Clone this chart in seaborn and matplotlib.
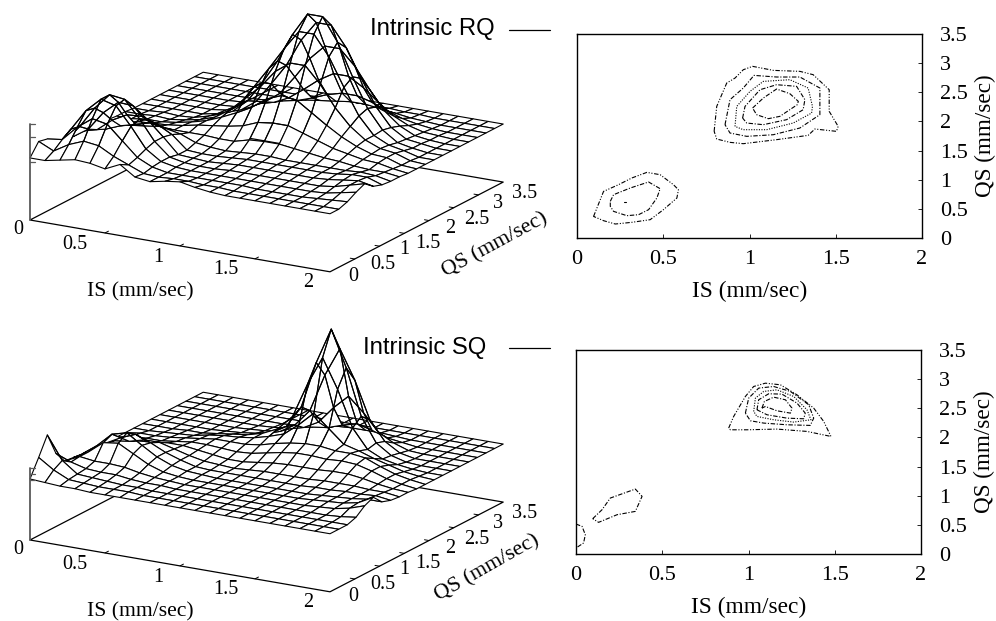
import matplotlib
matplotlib.use("Agg")
import matplotlib.pyplot as plt
import numpy as np
import seaborn as sns
from matplotlib.lines import Line2D
from mpl_toolkits.mplot3d import proj3d

W, H = 996, 621
SERIF = "Liberation Serif"
SANS = "Liberation Sans"

is_grid = [round(0.1 * i, 1) for i in range(21)]
qs_grid = [round(0.175 * j, 3) for j in range(21)]
floor_height = 58

# height above the flat floor, one row per IS value
rq_height = [
    [4, 16, 14, 2, 2, 3, 4, 4, 3, 2, 1, 1, 0, 0, 0, 0, 0, 0, 0, 0, 0],
    [4, 9, 16, 22, 20, 13, 8, 4, 3, 2, 1, 1, 0, 0, 0, 0, 0, 0, 0, 0, 0],
    [7, 18, 31, 43, 41, 32, 20, 10, 6, 5, 3, 2, 1, 0, 0, 0, 0, 0, 0, 0, 0],
    [10, 24, 42, 57, 57, 45, 28, 14, 8, 6, 3, 1, 0, 0, 0, 0, 0, 0, 0, 0, 0],
    [9, 22, 39, 53, 55, 44, 29, 18, 10, 7, 5, 3, 1, 0, 0, 0, 0, 0, 0, 0, 0],
    [6, 14, 25, 35, 38, 32, 24, 15, 9, 9, 8, 6, 5, 3, 2, 1, 1, 0, 0, 0, 0],
    [13, 8, 11, 15, 18, 18, 16, 12, 9, 12, 12, 11, 10, 8, 5, 3, 2, 1, 0, 0, 0],
    [3, 2, 4, 5, 5, 3, 3, 6, 9, 14, 18, 21, 21, 21, 16, 11, 6, 3, 1, 0, 0],
    [1, 1, 1, 2, 2, 2, 2, 4, 8, 16, 25, 35, 42, 42, 36, 22, 13, 6, 2, 1, 0],
    [4, 2, 1, 1, 1, 1, 2, 3, 8, 19, 33, 49, 63, 66, 57, 41, 24, 11, 4, 1, 0],
    [6, 2, 1, 1, 1, 2, 3, 4, 12, 25, 44, 67, 85, 95, 85, 62, 36, 17, 6, 2, 0],
    [3, 1, 1, 1, 2, 3, 4, 5, 13, 27, 50, 78, 105, 118, 105, 77, 45, 21, 8, 2, 0],
    [1, 1, 1, 1, 2, 3, 4, 5, 13, 27, 48, 78, 105, 118, 105, 77, 45, 21, 8, 2, 0],
    [0, 0, 1, 1, 2, 3, 4, 4, 11, 22, 38, 62, 85, 95, 85, 62, 36, 17, 6, 2, 0],
    [0, 0, 0, 1, 2, 3, 4, 4, 9, 17, 28, 41, 57, 63, 57, 41, 24, 11, 4, 1, 0],
    [0, 0, 0, 1, 2, 3, 4, 4, 7, 12, 19, 25, 31, 34, 31, 22, 13, 6, 2, 1, 0],
    [0, 0, 0, 1, 2, 3, 4, 4, 6, 9, 12, 14, 14, 15, 13, 10, 6, 3, 1, 0, 0],
    [0, 0, 0, 1, 2, 4, 5, 4, 4, 6, 7, 8, 7, 5, 4, 3, 2, 1, 0, 0, 0],
    [0, 0, 1, 2, 4, 6, 7, 5, 3, 5, 6, 6, 4, 2, 2, 1, 1, 0, 0, 0, 0],
    [0, 0, 2, 5, 8, 8, 7, 4, 3, 2, 1, 1, 0, 0, 0, 0, 0, 0, 0, 0, 0],
    [0, 0, 3, 8, 12, 5, 2, 1, 1, 0, 0, 0, 0, 0, 0, 0, 0, 0, 0, 0, 0],
]

sq_height = [
    [3, 20, 38, 15, 3, 2, 1, 1, 1, 0, 0, 0, 0, 0, 0, 0, 0, 0, 0, 0, 0],
    [2, 10, 15, 9, 10, 10, 12, 10, 8, 6, 3, 2, 0, 0, 0, 0, 0, 0, 0, 0, 0],
    [1, 3, 4, 5, 8, 22, 26, 18, 10, 6, 4, 2, 1, 0, 0, 0, 0, 0, 0, 0, 0],
    [1, 2, 3, 4, 8, 24, 30, 24, 14, 7, 4, 3, 2, 1, 0, 0, 0, 0, 0, 0, 0],
    [0, 1, 2, 4, 7, 16, 20, 18, 14, 9, 6, 5, 3, 1, 0, 0, 0, 0, 0, 0, 0],
    [0, 1, 1, 2, 4, 8, 11, 11, 10, 9, 8, 7, 6, 3, 1, 0, 0, 0, 0, 0, 0],
    [0, 1, 1, 1, 2, 3, 5, 6, 6, 7, 8, 9, 8, 5, 2, 1, 0, 0, 0, 0, 0],
    [0, 0, 0, 1, 1, 1, 2, 2, 3, 5, 7, 9, 9, 7, 4, 2, 1, 0, 0, 0, 0],
    [0, 0, 0, 0, 0, 0, 1, 1, 2, 3, 6, 9, 11, 11, 7, 4, 2, 1, 0, 0, 0],
    [0, 0, 0, 0, 0, 0, 0, 1, 1, 3, 7, 11, 15, 18, 16, 13, 6, 2, 1, 0, 0],
    [0, 0, 0, 0, 0, 0, 0, 1, 2, 5, 10, 15, 20, 33, 38, 30, 14, 4, 1, 0, 0],
    [0, 0, 0, 0, 0, 0, 0, 1, 3, 7, 13, 18, 32, 68, 85, 68, 31, 9, 2, 0, 0],
    [0, 0, 0, 0, 0, 0, 0, 1, 3, 8, 15, 20, 46, 97, 121, 97, 45, 13, 2, 0, 0],
    [0, 0, 0, 0, 0, 0, 0, 1, 3, 8, 15, 20, 33, 68, 85, 68, 31, 9, 2, 0, 0],
    [0, 0, 0, 0, 0, 0, 0, 1, 3, 8, 14, 18, 20, 32, 39, 31, 14, 4, 1, 0, 0],
    [0, 0, 0, 0, 0, 0, 0, 2, 4, 9, 15, 18, 16, 13, 15, 12, 6, 2, 0, 0, 0],
    [0, 0, 0, 0, 0, 1, 1, 2, 4, 9, 14, 16, 11, 6, 5, 3, 1, 0, 0, 0, 0],
    [0, 0, 0, 0, 1, 2, 2, 3, 4, 7, 10, 10, 7, 3, 1, 0, 0, 0, 0, 0, 0],
    [0, 0, 0, 0, 2, 3, 3, 3, 3, 4, 5, 5, 3, 1, 0, 0, 0, 0, 0, 0, 0],
    [0, 0, 0, 1, 5, 6, 5, 4, 3, 2, 2, 2, 1, 0, 0, 0, 0, 0, 0, 0, 0],
    [0, 0, 0, 3, 10, 14, 5, 2, 1, 1, 0, 0, 0, 0, 0, 0, 0, 0, 0, 0, 0],
]

# contour lines
rq_low_outer_is = [.096, .154, .241, .318, .405, .482, .559, .588, .579, .501, .424, .318, .222, .154, .096]
rq_low_outer_qs = [.37, .80, .915, 1.03, 1.126, 1.086, .915, .829, .686, .486, .314, .269, .24, .297, .37]
rq_low_inner_is = [.193, .212, .309, .415, .482, .463, .415, .357, .289, .212, .193, .193]
rq_low_inner_qs = [.629, .743, .858, .961, .846, .686, .486, .40, .383, .457, .543, .629]
rq_low_dot_is = [.275, .285]
rq_low_dot_qs = [.61, .61]
rq_c1_is = [.795, .81, .868, .916, .964, 1.018, 1.138, 1.292, 1.369, 1.462, 1.462, 1.514, 1.504, 1.379, 1.34, 1.157, .964, .887, .81, .795]
rq_c1_qs = [1.83, 2.258, 2.659, 2.744, 2.887, 2.945, 2.876, 2.859, 2.802, 2.544, 2.173, 1.915, 1.83, 1.87, 1.761, 1.687, 1.618, 1.641, 1.698, 1.83]
rq_c2_is = [.858, .887, .964, 1.026, 1.157, 1.292, 1.408, 1.408, 1.292, 1.138, .984, .887, .858]
rq_c2_qs = [1.944, 2.373, 2.573, 2.79, 2.762, 2.762, 2.573, 2.116, 1.887, 1.772, 1.744, 1.801, 1.944]
rq_c3_is = [.916, .926, 1.003, 1.08, 1.234, 1.34, 1.365, 1.36, 1.254, 1.099, .964, .916]
rq_c3_qs = [1.915, 2.258, 2.516, 2.687, 2.716, 2.573, 2.258, 2.144, 1.973, 1.858, 1.858, 1.915]
rq_c4_is = [.96, .974, 1.061, 1.157, 1.273, 1.321, 1.311, 1.215, 1.08, .984, .96]
rq_c4_qs = [2.058, 2.258, 2.544, 2.63, 2.602, 2.373, 2.201, 2.03, 1.944, 1.972, 2.058]
rq_c5_is = [1.018, 1.08, 1.157, 1.234, 1.283, 1.277, 1.176, 1.109, 1.041, 1.018]
rq_c5_qs = [2.23, 2.401, 2.556, 2.476, 2.344, 2.287, 2.087, 2.047, 2.116, 2.23]

sq_c1_is = [.885, .914, .982, 1.03, 1.098, 1.185, 1.281, 1.378, 1.436, 1.478, 1.339, 1.165, .991, .895, .885]
sq_c1_qs = [2.16, 2.36, 2.703, 2.874, 2.931, 2.903, 2.731, 2.503, 2.274, 2.017, 2.103, 2.143, 2.131, 2.131, 2.16]
sq_c2_is = [.982, 1.001, 1.059, 1.146, 1.243, 1.349, 1.378, 1.358, 1.223, 1.088, 1.011, .982]
sq_c2_qs = [2.417, 2.674, 2.846, 2.874, 2.789, 2.56, 2.331, 2.206, 2.217, 2.246, 2.286, 2.417]
sq_c3_is = [1.03, 1.04, 1.088, 1.165, 1.262, 1.339, 1.362, 1.262, 1.146, 1.049, 1.03]
sq_c3_qs = [2.446, 2.674, 2.789, 2.817, 2.703, 2.474, 2.303, 2.263, 2.303, 2.36, 2.446]
sq_c4_is = [1.049, 1.059, 1.117, 1.194, 1.281, 1.329, 1.32, 1.223, 1.107, 1.049]
sq_c4_qs = [2.474, 2.646, 2.749, 2.743, 2.589, 2.417, 2.32, 2.331, 2.389, 2.474]
sq_c5_is = [1.078, 1.092, 1.146, 1.214, 1.252, 1.243, 1.165, 1.098, 1.078]
sq_c5_qs = [2.503, 2.617, 2.691, 2.646, 2.503, 2.417, 2.457, 2.531, 2.503]
sq_low_is = [.097, .151, .199, .344, .383, .344, .238, .131, .097]
sq_low_qs = [.606, .76, .96, 1.114, .989, .731, .674, .543, .606]
sq_edge_is = [0, .035, .054, .044, 0]
sq_edge_qs = [.514, .474, .331, .189, .103]

is_ticks = [0, 0.5, 1, 1.5, 2]
is_labels = ["0", "0.5", "1", "1.5", "2"]
qs_ticks = [0, 0.5, 1, 1.5, 2, 2.5, 3, 3.5]
qs_labels = ["0", "0.5", "1", "1.5", "2", "2.5", "3", "3.5"]

DOTDASH = (0, (4, 1.5, 1, 1.5, 1, 1.5))
DASHDOT = (0, (4, 1.5, 1, 1.5))
DOTTED = (0, (1, 1.3))

sns.set_theme(style="ticks")
plt.rcParams["font.family"] = [SERIF, "DejaVu Serif"]
plt.rcParams["axes.edgecolor"] = "black"

fig = plt.figure(figsize=(W / 100, H / 100), dpi=100, facecolor="white")


def px_text(x, y, s, size=14.5, **kw):
    kw.setdefault("ha", "center")
    kw.setdefault("va", "center")
    fig.text(x / W, 1 - (y + 1.5) / H, s, fontsize=size, color="black", **kw)


def px_line(xs, ys, color="black", lw=0.9):
    fig.add_artist(Line2D([x / W for x in xs], [1 - y / H for y in ys],
                          color=color, lw=lw, transform=fig.transFigure))


def corner(ax, i, q, z):
    x, y, _ = proj3d.proj_transform(i, q, z, ax.get_proj())
    return ax.transData.transform((x, y))


def place_3d(ax, left, base_y):
    # size and shift the square 3d axes until the base plane lands on its pixels
    size = 500.0
    ax.set_position([0, 0, size / W, size / H])
    ax.apply_aspect()
    a = corner(ax, 0, 0, 0)
    b = corner(ax, 2, 0, 0)
    size *= 300.0 / (b[0] - a[0])
    ax.set_position([0, 0, size / W, size / H])
    ax.apply_aspect()
    a = corner(ax, 0, 0, 0)
    ax.set_position([(left - a[0]) / W, ((H - base_y) - a[1]) / H, size / W, size / H])
    ax.apply_aspect()


def surface_panel(height, base_y, z_ticks, z_top, qs_label_xy, qs_rot):
    ax = fig.add_axes([0, 0, 0.5, 0.5], projection="3d", computed_zorder=False)
    ax.set_proj_type("ortho")
    ax.view_init(elev=17.4, azim=-60)
    ax.set_xlim(0, 2)
    ax.set_ylim(0, 3.5)
    ax.set_zlim(0, 180)
    ax.set_box_aspect((1, 1, 0.545))
    ax.set_axis_off()
    ax.patch.set_alpha(0)

    ax.plot([0, 0, 2, 2, 0], [3.5, 0, 0, 3.5, 3.5], [0, 0, 0, 0, 0],
            color="black", lw=0.9, zorder=1)
    for v in is_ticks[1:-1]:
        ax.plot([v, v], [0, 0.07], [0, 0], color="black", lw=0.7, zorder=1)
    for v in qs_ticks[1:-1]:
        ax.plot([2, 1.97], [v, v], [0, 0], color="black", lw=0.7, zorder=1)

    xx, yy = np.meshgrid(is_grid, qs_grid, indexing="ij")
    hh = np.array(height, dtype=float)
    zz = hh + floor_height

    # faces high on the hills let the wires behind them show through
    faces = np.ones(hh.shape + (4,))
    cell = (hh[:-1, :-1] + hh[1:, :-1] + hh[:-1, 1:] + hh[1:, 1:]) / 4
    faces[:-1, :-1, 3] = np.where(cell > 19, 0.0, 1.0)

    surf = ax.plot_surface(xx, yy, zz, rstride=1, cstride=1, facecolors=faces, shade=False,
                           linewidth=0.8, zorder=2)
    surf.set_edgecolor("black")
    place_3d(ax, 30, base_y)

    # grey z axis
    px_line([30, 30], [base_y, base_y - z_top], color="0.35", lw=1.3)
    for t in z_ticks:
        px_line([30, 35], [base_y - t, base_y - t], color="0.35", lw=0.9)

    px_text(18, base_y + 8, "0")
    for s, x, y in zip(is_labels[1:], [74.5, 158, 226, 308], [23, 36, 48, 61]):
        px_text(x, base_y + y, s)
    for s, x, y in zip(qs_labels,
                       [353, 383, 404, 428, 450, 477, 498, 525],
                       [55, 43, 28, 22, 7, -2, -18, -28]):
        px_text(x, base_y + y, s)
    px_text(140, base_y + 70.5, "IS (mm/sec)", size=15.6)
    px_text(qs_label_xy[0], base_y + qs_label_xy[1], "QS (mm/sec)", size=15.8, rotation=qs_rot)


def contour_panel(left, top, right, bottom, lines):
    ax = fig.add_axes([left / W, 1 - bottom / H, (right - left) / W, (bottom - top) / H])
    for xs, ys, style in lines:
        sns.lineplot(x=xs, y=ys, sort=False, estimator=None, errorbar=None, ax=ax,
                     color="black", lw=0.8, linestyle=style, legend=False)
    ax.set_xlim(0, 2)
    ax.set_ylim(0, 3.5)
    ax.set_xticks(is_ticks, is_labels)
    ax.set_yticks(qs_ticks, qs_labels)
    ax.yaxis.tick_right()
    ax.yaxis.set_label_position("right")
    ax.tick_params(direction="in", length=3, width=0.6, labelsize=16, colors="black")
    ax.tick_params(axis="x", pad=9)
    ax.tick_params(axis="y", pad=13)
    ax.set_xlabel("IS (mm/sec)", fontsize=16.8, labelpad=8, color="black")
    ax.set_ylabel("QS (mm/sec)", fontsize=16.7, labelpad=5, color="black")
    for sp in ax.spines.values():
        sp.set_visible(True)
        sp.set_linewidth(1.0)
        sp.set_color("black")
    ax.patch.set_alpha(0)


surface_panel(rq_height, 220, [58, 83, 96], 96, (495, 24), 28.4)
surface_panel(sq_height, 540, [60, 66, 72], 72, (487, 26.5), 29.6)

contour_panel(577, 34, 922, 238, [
    (rq_low_outer_is, rq_low_outer_qs, DOTDASH),
    (rq_low_inner_is, rq_low_inner_qs, DASHDOT),
    (rq_low_dot_is, rq_low_dot_qs, "-"),
    (rq_c1_is, rq_c1_qs, DOTDASH),
    (rq_c2_is, rq_c2_qs, DASHDOT),
    (rq_c3_is, rq_c3_qs, DOTTED),
    (rq_c4_is, rq_c4_qs, DASHDOT),
    (rq_c5_is, rq_c5_qs, DASHDOT),
])
contour_panel(576, 350, 921, 554, [
    (sq_c1_is, sq_c1_qs, DOTDASH),
    (sq_c2_is, sq_c2_qs, DASHDOT),
    (sq_c3_is, sq_c3_qs, DOTTED),
    (sq_c4_is, sq_c4_qs, DASHDOT),
    (sq_c5_is, sq_c5_qs, DASHDOT),
    (sq_low_is, sq_low_qs, DASHDOT),
    (sq_edge_is, sq_edge_qs, DASHDOT),
])

px_text(432, 28, "Intrinsic RQ", size=17.2, family=SANS)
px_text(425, 346.5, "Intrinsic SQ", size=17.2, family=SANS)
px_line([509, 550], [30, 30])
px_line([509, 550], [348, 348])

fig.savefig("out.png", dpi=100)
